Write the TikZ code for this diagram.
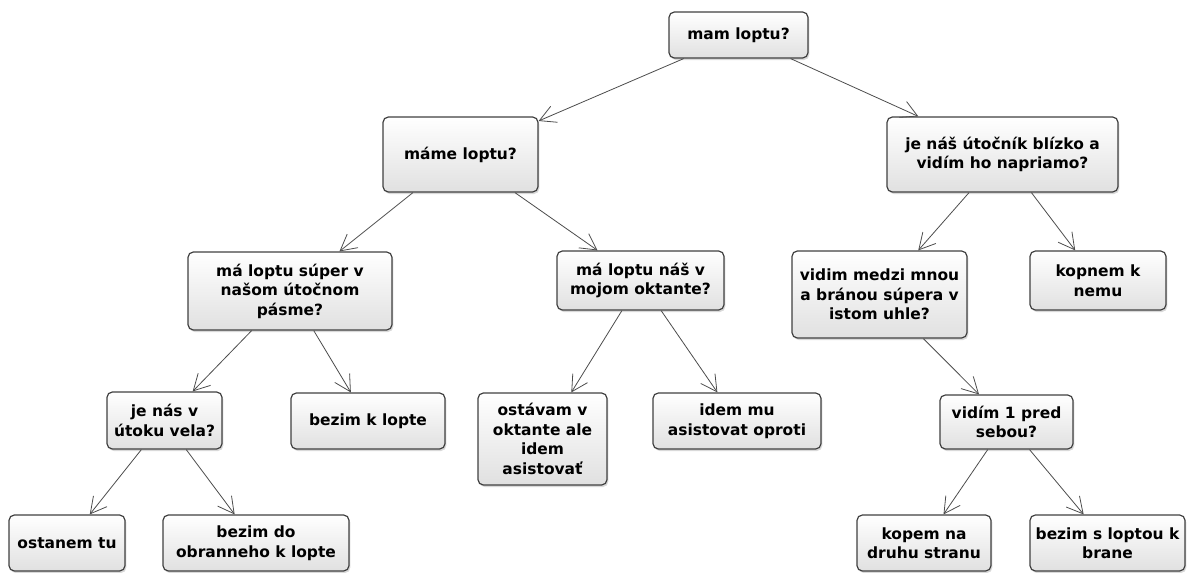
\documentclass[tikz,border=0pt]{standalone}
\usepackage{fontspec}
\setmainfont{DejaVu Sans}
\usetikzlibrary{arrows.meta,shadows}
\begin{document}
\begin{tikzpicture}[x=0.75pt,y=-0.75pt]
  \useasboundingbox (0,0) rectangle (1189,572);

      \tikzset{enclosed/.style={draw=black!75, line width=0.9pt, rounded corners=4pt, top color=white, bottom color=black!12,
          drop shadow={shadow xshift=1pt, shadow yshift=-1.5pt, opacity=0.3}, align=center, inner sep=2pt,
          font=\fontsize{11.6}{14.6}\selectfont\bfseries},
        boxsize/.style 2 args={minimum width=#1*0.75pt, minimum height=#2*0.75pt},
        every edge/.style={draw=black!70, line width=0.6pt, -{Straight Barb[length=12pt,width=13pt]}}}
%% Vertices
      	\node[enclosed, boxsize={139}{46}] (v1) at (738.5,35) {mam loptu?};
      	\node[enclosed, boxsize={155}{75}] (v2) at (460.5,154.5) {máme loptu?};
      	\node[enclosed, boxsize={231}{75}] (v3) at (1002.5,154.5) {je náš útočník blízko a\\vidím ho napriamo?};
      	\node[enclosed, boxsize={204}{78}] (v4) at (290,291) {má loptu súper v\\našom útočnom\\pásme?};
      	\node[enclosed, boxsize={167}{59}] (v5) at (640.5,280.5) {má loptu náš v\\mojom oktante?};
      	\node[enclosed, boxsize={175}{87}] (v6) at (879.5,294.5) {vidim medzi mnou\\a bránou súpera v\\istom uhle?};
      	\node[enclosed, boxsize={136}{59}] (v7) at (1098,280.5) {kopnem k\\nemu};
      	\node[enclosed, boxsize={115}{57}] (v8) at (164.5,420.5) {je nás v\\útoku vela?};
      	\node[enclosed, boxsize={154}{56}] (v9) at (368,421) {bezim k lopte};
      	\node[enclosed, boxsize={129}{92}] (v10) at (542.5,439) {ostávam v\\oktante ale\\idem\\asistovať};
      	\node[enclosed, boxsize={168}{56}] (v11) at (737,421) {idem mu\\asistovat oproti};
      	\node[enclosed, boxsize={133}{54}] (v12) at (1006.5,422) {vidím 1 pred\\sebou?};
      	\node[enclosed, boxsize={116}{56}] (v13) at (67,543) {ostanem tu};
      	\node[enclosed, boxsize={186}{56}] (v14) at (256,543) {bezim do\\obranneho k lopte};
      	\node[enclosed, boxsize={134}{56}] (v15) at (924,543) {kopem na\\druhu stranu};
      	\node[enclosed, boxsize={155}{56}] (v16) at (1107.5,543) {bezim s loptou k\\brane};

%Edges
		\path (v1) edge (v2);
		\path (v1) edge (v3);
		\path (v2) edge (v4);
		\path (v2) edge (v5);
		\path (v3) edge (v6);
		\path (v3) edge (v7);
		\path (v4) edge (v8);
		\path (v4) edge (v9);
		\path (v5) edge (v10);
		\path (v5) edge (v11);
		\path (v6) edge (v12);
		\path (v8) edge (v13);
		\path (v8) edge (v14);
		\path (v12) edge (v15);
		\path (v12) edge (v16);
	\end{tikzpicture}
\end{document}
